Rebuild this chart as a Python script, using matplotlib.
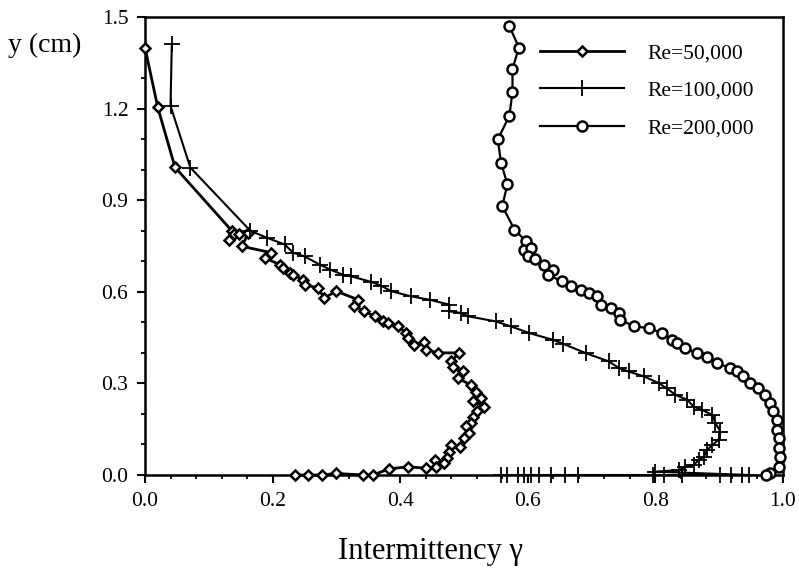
import matplotlib
matplotlib.use("Agg")
import matplotlib.pyplot as plt
from matplotlib.ticker import MultipleLocator, FormatStrFormatter

# Re = 50,000 (diamonds)
x50 = [0.000, 0.020, 0.047, 0.136, 0.139, 0.131, 0.148, 0.162, 0.152, 0.198, 0.188,
       0.211, 0.217, 0.227, 0.232, 0.248, 0.250, 0.271, 0.281, 0.300, 0.334, 0.328,
       0.344, 0.360, 0.373, 0.381, 0.396, 0.409, 0.412, 0.422, 0.438, 0.441, 0.459,
       0.492, 0.480, 0.482, 0.498, 0.490, 0.511, 0.519, 0.527, 0.514, 0.532, 0.521,
       0.514, 0.511, 0.503, 0.508, 0.500, 0.493, 0.480, 0.477, 0.474, 0.469, 0.454,
       0.456, 0.441, 0.412, 0.383, 0.357, 0.342, 0.300, 0.277, 0.256, 0.235]
y50 = [1.400, 1.204, 1.008, 0.800, 0.790, 0.771, 0.788, 0.794, 0.749, 0.728, 0.711,
       0.689, 0.679, 0.663, 0.656, 0.640, 0.623, 0.613, 0.580, 0.602, 0.574, 0.552,
       0.536, 0.520, 0.503, 0.498, 0.487, 0.466, 0.449, 0.427, 0.437, 0.410, 0.400,
       0.400, 0.372, 0.355, 0.339, 0.317, 0.295, 0.273, 0.252, 0.241, 0.224, 0.208,
       0.191, 0.170, 0.159, 0.137, 0.120, 0.093, 0.098, 0.076, 0.055, 0.038, 0.049,
       0.027, 0.022, 0.027, 0.020, 0.000, 0.000, 0.005, 0.000, 0.000, 0.000]

# Re = 100,000 (plus)
x100 = [0.042, 0.040, 0.071, 0.165, 0.191, 0.219, 0.232, 0.250, 0.274, 0.290, 0.310,
        0.323, 0.355, 0.370, 0.386, 0.417, 0.446, 0.477, 0.477, 0.495, 0.506, 0.550,
        0.573, 0.602, 0.639, 0.655, 0.691, 0.727, 0.743, 0.758, 0.782, 0.805, 0.818,
        0.831, 0.850, 0.860, 0.873, 0.889, 0.894, 0.902, 0.899, 0.889, 0.881, 0.876,
        0.868, 0.860, 0.847, 0.837, 0.800,
        0.947, 0.936, 0.919, 0.902, 0.842, 0.813, 0.797, 0.678, 0.659, 0.636, 0.617,
        0.605, 0.594, 0.584, 0.567, 0.558]
y100 = [1.411, 1.209, 1.007, 0.800, 0.777, 0.755, 0.728, 0.716, 0.689, 0.673, 0.656,
        0.651, 0.632, 0.620, 0.602, 0.585, 0.574, 0.558, 0.536, 0.531, 0.520, 0.503,
        0.487, 0.465, 0.443, 0.430, 0.399, 0.372, 0.350, 0.339, 0.323, 0.301, 0.284,
        0.263, 0.246, 0.224, 0.213, 0.197, 0.170, 0.142, 0.115, 0.098, 0.082, 0.060,
        0.049, 0.033, 0.027, 0.016, 0.011,
        0.0, 0.0, 0.0, 0.0, 0.0, 0.0, 0.0, 0.0, 0.0, 0.0, 0.0,
        0.0, 0.0, 0.0, 0.0, 0.0]

# Re = 200,000 (circles)
x200 = [0.571, 0.586, 0.576, 0.576, 0.571, 0.553, 0.558, 0.568, 0.560, 0.579, 0.597,
        0.594, 0.605, 0.600, 0.612, 0.626, 0.639, 0.631, 0.654, 0.667, 0.683, 0.696,
        0.709, 0.714, 0.730, 0.743, 0.745, 0.766, 0.790, 0.810, 0.826, 0.834, 0.847,
        0.865, 0.881, 0.896, 0.917, 0.928, 0.938, 0.948, 0.961, 0.972, 0.980, 0.985,
        0.990, 0.990, 0.993, 0.993, 0.995, 0.993, 0.980, 0.974]
y200 = [1.471, 1.400, 1.329, 1.253, 1.176, 1.099, 1.023, 0.952, 0.881, 0.804, 0.766,
        0.738, 0.744, 0.716, 0.706, 0.689, 0.673, 0.656, 0.634, 0.618, 0.607, 0.596,
        0.585, 0.558, 0.547, 0.531, 0.509, 0.487, 0.481, 0.465, 0.443, 0.432, 0.416,
        0.399, 0.388, 0.367, 0.350, 0.339, 0.323, 0.301, 0.284, 0.263, 0.235, 0.208,
        0.181, 0.148, 0.120, 0.088, 0.060, 0.027, 0.005, 0.000]

labels = ["Re=50,000", "Re=100,000", "Re=200,000"]
xticks = [0.0, 0.2, 0.4, 0.6, 0.8, 1.0]
yticks = [0.0, 0.3, 0.6, 0.9, 1.2, 1.5]

plt.rcParams['font.family'] = ['Liberation Serif', 'DejaVu Serif']

fig = plt.figure(figsize=(7.99, 5.78), dpi=100)
ax = fig.add_axes([145/799, 1 - 475/578, (783-145)/799, (475-17)/578])

ax.plot(x50, y50, color='black', lw=2.0, marker='D', ms=5.5, mfc='white', mec='black',
        mew=1.8, label=labels[0], clip_on=False, zorder=3)
ax.plot(x100, y100, color='black', lw=1.5, marker='+', ms=11, mew=1.3,
        label=labels[1], clip_on=False, zorder=3)
ax.plot(x200, y200, color='black', lw=1.6, marker='o', ms=7.2, mfc='white', mec='black',
        mew=1.8, label=labels[2], clip_on=False, zorder=3)

ax.set_xlim(0, 1.0)
ax.set_ylim(0, 1.5)
ax.set_xticks(xticks)
ax.set_yticks(yticks)
ax.xaxis.set_major_formatter(FormatStrFormatter('%.1f'))
ax.yaxis.set_major_formatter(FormatStrFormatter('%.1f'))
ax.xaxis.set_minor_locator(MultipleLocator(0.04))
ax.yaxis.set_minor_locator(MultipleLocator(0.1))
ax.tick_params(axis='both', which='major', direction='out', length=6, width=1.5,
               labelsize=15.5, pad=6)
ax.tick_params(axis='both', which='minor', direction='out', length=3, width=1.3)
for s in ax.spines.values():
    s.set_linewidth(1.8)
    s.set_color('black')

leg = ax.legend(loc='upper left', bbox_to_anchor=((540-145)/638, 1 - (43-17)/458),
                frameon=False, fontsize=15.5, handlelength=3.9, handletextpad=1.1,
                labelspacing=0.82, borderaxespad=0, borderpad=0)

fig.text(8/799, 1 - 45/578, "y (cm)", fontsize=20, va='center', ha='left')
fig.text(430/799, 1 - 552/578, "Intermittency γ", fontsize=22, va='center', ha='center')

fig.savefig("out.png", dpi=100)
